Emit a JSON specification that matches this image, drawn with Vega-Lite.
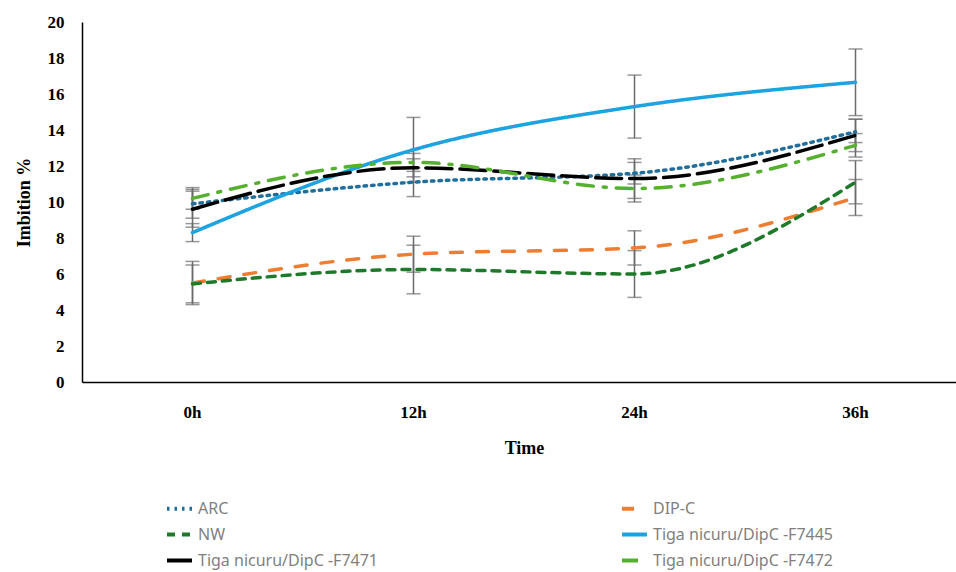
{
  "$schema": "https://vega.github.io/schema/vega-lite/v6.json",
  "width": 874,
  "height": 360,
  "autosize": {"type": "none"},
  "padding": {"left": 82, "top": 22, "right": 0, "bottom": 190},
  "background": "white",
  "config": {
    "view": {"stroke": null},
    "axis": {"grid": false, "ticks": false, "domainColor": "#000000", "domainWidth": 1.5, "labelOverlap": false,
      "labelFont": "Liberation Serif", "labelFontWeight": "bold", "labelFontSize": 17, "labelColor": "#000000",
      "titleFont": "Liberation Serif", "titleFontWeight": "bold", "titleFontSize": 18, "titleColor": "#000000"}
  },
  "data": {"values": [
    {"time": "0h", "series": "ARC", "v": 9.9, "lo": 9.1, "hi": 10.7},
    {"time": "12h", "series": "ARC", "v": 11.1, "lo": 10.3, "hi": 11.9},
    {"time": "24h", "series": "ARC", "v": 11.6, "lo": 11.0, "hi": 12.2},
    {"time": "36h", "series": "ARC", "v": 13.9, "lo": 13.3, "hi": 14.6},
    {"time": "0h", "series": "DIP-C", "v": 5.5, "lo": 4.3, "hi": 6.7},
    {"time": "12h", "series": "DIP-C", "v": 7.1, "lo": 6.1, "hi": 8.1},
    {"time": "24h", "series": "DIP-C", "v": 7.45, "lo": 6.5, "hi": 8.4},
    {"time": "36h", "series": "DIP-C", "v": 10.25, "lo": 9.25, "hi": 11.25},
    {"time": "0h", "series": "NW", "v": 5.45, "lo": 4.4, "hi": 6.5},
    {"time": "12h", "series": "NW", "v": 6.25, "lo": 4.9, "hi": 7.6},
    {"time": "24h", "series": "NW", "v": 6.0, "lo": 4.7, "hi": 7.3},
    {"time": "36h", "series": "NW", "v": 11.1, "lo": 9.9, "hi": 12.3},
    {"time": "0h", "series": "Tiga nicuru/DipC -F7445", "v": 8.3, "lo": 7.8, "hi": 8.8},
    {"time": "12h", "series": "Tiga nicuru/DipC -F7445", "v": 12.9, "lo": 11.1, "hi": 14.7},
    {"time": "24h", "series": "Tiga nicuru/DipC -F7445", "v": 15.3, "lo": 13.55, "hi": 17.05},
    {"time": "36h", "series": "Tiga nicuru/DipC -F7445", "v": 16.65, "lo": 14.8, "hi": 18.5},
    {"time": "0h", "series": "Tiga nicuru/DipC -F7471", "v": 9.6, "lo": 8.6, "hi": 10.6},
    {"time": "12h", "series": "Tiga nicuru/DipC -F7471", "v": 11.9, "lo": 11.4, "hi": 12.4},
    {"time": "24h", "series": "Tiga nicuru/DipC -F7471", "v": 11.3, "lo": 10.2, "hi": 12.4},
    {"time": "36h", "series": "Tiga nicuru/DipC -F7471", "v": 13.7, "lo": 12.8, "hi": 14.6},
    {"time": "0h", "series": "Tiga nicuru/DipC -F7472", "v": 10.2, "lo": 9.6, "hi": 10.8},
    {"time": "12h", "series": "Tiga nicuru/DipC -F7472", "v": 12.2, "lo": 11.7, "hi": 12.7},
    {"time": "24h", "series": "Tiga nicuru/DipC -F7472", "v": 10.75, "lo": 10.0, "hi": 11.5},
    {"time": "36h", "series": "Tiga nicuru/DipC -F7472", "v": 13.15, "lo": 12.5, "hi": 13.8}
  ]},
  "encoding": {
    "x": {"field": "time", "type": "nominal", "sort": ["0h", "12h", "24h", "36h"],
      "scale": {"type": "band", "paddingInner": 0, "paddingOuter": 0, "range": [0, 884]},
      "axis": {"labelAngle": 0, "labelPadding": 22, "titlePadding": 19, "title": "Time"}}
  },
  "layer": [
    {
      "mark": {"type": "errorbar", "ticks": {"color": "#6b6b6b", "size": 14, "thickness": 1.5}, "rule": {"color": "#6b6b6b", "strokeWidth": 1.5}},
      "encoding": {
        "y": {"field": "lo", "type": "quantitative", "title": "Imbition %", "scale": {"domain": [0, 20]},
          "axis": {"values": [0, 2, 4, 6, 8, 10, 12, 14, 16, 18, 20], "title": "Imbition %", "labelPadding": 18, "titlePadding": 14}},
        "y2": {"field": "hi"},
        "detail": {"field": "series"}
      }
    },
    {
      "mark": {"type": "line", "interpolate": "monotone", "strokeWidth": 3.5, "strokeCap": "round"},
      "encoding": {
        "y": {"field": "v", "type": "quantitative", "title": "Imbition %", "scale": {"domain": [0, 20]},
          "axis": {"values": [0, 2, 4, 6, 8, 10, 12, 14, 16, 18, 20], "title": "Imbition %", "labelPadding": 18, "titlePadding": 14}},
        "color": {"field": "series", "type": "nominal",
          "scale": {"domain": ["ARC", "DIP-C", "NW", "Tiga nicuru/DipC -F7445", "Tiga nicuru/DipC -F7471", "Tiga nicuru/DipC -F7472"],
            "range": ["#1f6e9c", "#ed7d31", "#1e7a2a", "#1ca3e0", "#000000", "#55b02e"]},
          "legend": {"orient": "none", "direction": "horizontal", "legendX": 83, "legendY": 472, "columns": 2, "columnPadding": 235, "rowPadding": 3, "gridAlign": "all",
            "symbolType": "stroke", "symbolSize": 625, "symbolStrokeWidth": 4, "title": null,
            "labelFont": "Noto Sans", "labelFontSize": 16, "labelColor": "#7f7f7f", "labelLimit": 400}},
        "strokeDash": {"field": "series", "type": "nominal",
          "scale": {"domain": ["ARC", "DIP-C", "NW", "Tiga nicuru/DipC -F7445", "Tiga nicuru/DipC -F7471", "Tiga nicuru/DipC -F7472"],
            "range": [[2.5, 5], [12, 14], [8, 7], [1, 0], [26, 8], [16, 10, 3, 10]]}}
      }
    }
  ]
}
